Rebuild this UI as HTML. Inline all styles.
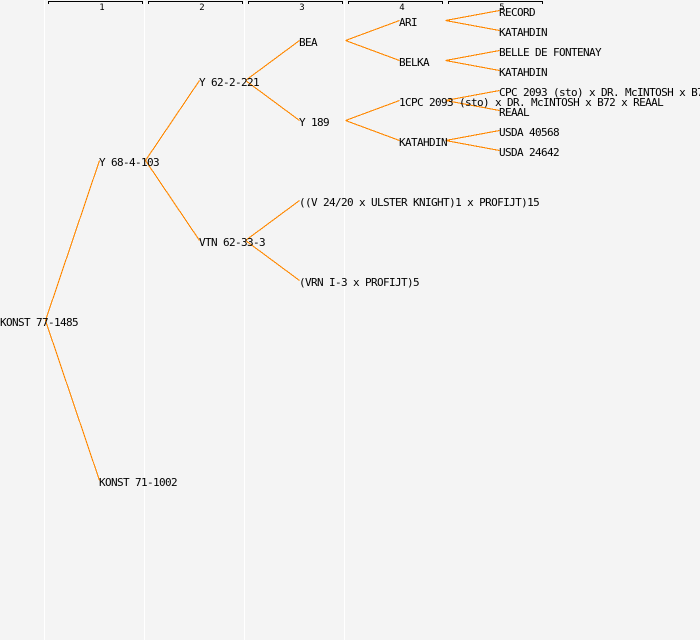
<!DOCTYPE html>
<html><head><meta charset="utf-8"><style>
html,body{margin:0;padding:0;background:#f4f4f4}
svg{display:block}
text{font-family:"DejaVu Sans Mono","Liberation Mono",monospace;font-size:11px;letter-spacing:-0.62px;fill:#000}
text.h{font-size:9px;letter-spacing:0}
</style></head><body>
<svg width="700" height="640" viewBox="0 0 700 640" xmlns="http://www.w3.org/2000/svg">
<rect width="700" height="640" fill="#f4f4f4"/>
<g stroke="#fff" stroke-width="1" shape-rendering="crispEdges">
<path d="M44.5 0V640M144.5 0V640M244.5 0V640M344.5 0V640"/>
</g>
<g fill="none" stroke="#000" stroke-width="1" shape-rendering="crispEdges">
<path d="M48.5 4V1.500H142.500V4"/>
<path d="M148.500 4V1.500H242.500V4"/>
<path d="M248.500 4V1.500H342.500V4"/>
<path d="M348.500 4V1.500H442.500V4"/>
<path d="M448.500 4V1.500H542.500V4"/>
</g>
<g text-anchor="middle">
<text class="h" x="102" y="10">1</text>
<text class="h" x="202" y="10">2</text>
<text class="h" x="302" y="10">3</text>
<text class="h" x="402" y="10">4</text>
<text class="h" x="502" y="10">5</text>
</g>
<g fill="none" stroke="#ff8800" stroke-width="1.1" shape-rendering="crispEdges">
<path d="M45.500 320.500L99.500 160.500M45.500 320.500L99.500 480.500"/>
<path d="M145.500 160.500L199.500 80.500M145.500 160.500L199.500 240.500"/>
<path d="M245.500 80.500L299.500 40.500M245.500 80.500L299.500 120.500"/>
<path d="M245.500 240.500L299.500 200.500M245.500 240.500L299.500 280.500"/>
<path d="M345.500 40.500L399.500 20.500M345.500 40.500L399.500 60.500"/>
<path d="M345.500 120.500L399.500 100.500M345.500 120.500L399.500 140.500"/>
<path d="M445.500 20.500L499.500 10.500M445.500 20.500L499.500 30.500"/>
<path d="M445.500 60.500L499.500 50.500M445.500 60.500L499.500 70.500"/>
<path d="M445.500 100.500L499.500 90.500M445.500 100.500L499.500 110.500"/>
<path d="M445.500 140.500L499.500 130.500M445.500 140.500L499.500 150.500"/>
</g>
<text x="0" y="326">KONST 77-1485</text>
<text x="99" y="166">Y 68-4-103</text>
<text x="99" y="486">KONST 71-1002</text>
<text x="199" y="86">Y 62-2-221</text>
<text x="199" y="246">VTN 62-33-3</text>
<text x="299" y="46">BEA</text>
<text x="299" y="126">Y 189</text>
<text x="299" y="206">((V 24/20 x ULSTER KNIGHT)1 x PROFIJT)15</text>
<text x="299" y="286">(VRN I-3 x PROFIJT)5</text>
<text x="399" y="26">ARI</text>
<text x="399" y="66">BELKA</text>
<text x="399" y="106">1CPC 2093 (sto) x DR. McINTOSH x B72 x REAAL</text>
<text x="399" y="146">KATAHDIN</text>
<text x="499" y="16">RECORD</text>
<text x="499" y="36">KATAHDIN</text>
<text x="499" y="56">BELLE DE FONTENAY</text>
<text x="499" y="76">KATAHDIN</text>
<text x="499" y="96">CPC 2093 (sto) x DR. McINTOSH x B72</text>
<text x="499" y="116">REAAL</text>
<text x="499" y="136">USDA 40568</text>
<text x="499" y="156">USDA 24642</text>
</svg>
</body></html>
